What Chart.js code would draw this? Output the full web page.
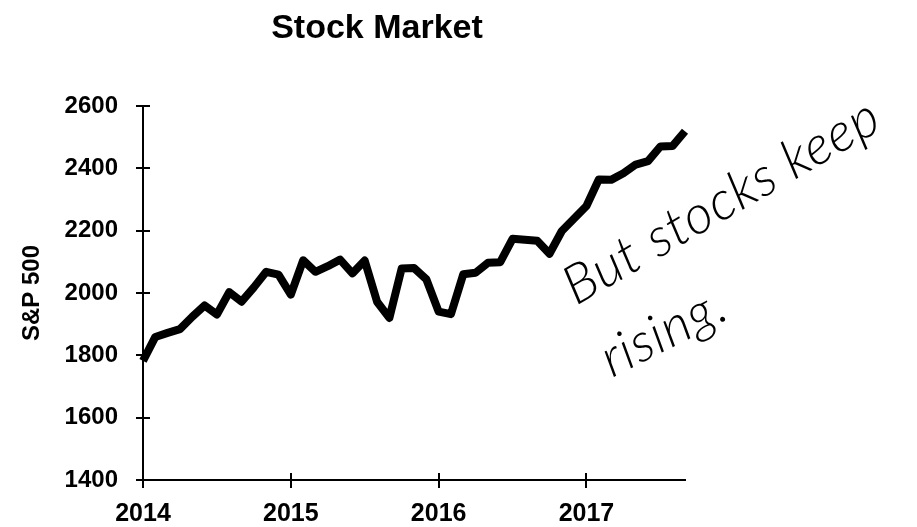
<!DOCTYPE html>
<html>
<head>
<meta charset="utf-8">
<script src="https://cdn.jsdelivr.net/npm/chart.js@4/dist/chart.umd.min.js"></script>
<style>
  html, body { margin: 0; padding: 0; background: #fff; }
  #wrap { width: 917px; height: 527px; }
</style>
</head>
<body>
<div id="wrap"><canvas id="stockChart"></canvas></div>
<script>
// month-end S&P 500 closes, Jan 2014 .. Sep 2017
var years = ['2014', '2015', '2016', '2017'];
var monthNames = ['Jan','Feb','Mar','Apr','May','Jun','Jul','Aug','Sep','Oct','Nov','Dec'];
var sp500 = [
  1782, 1859, 1872, 1884, 1924, 1960, 1931, 2003, 1972, 2018, 2068, 2059,   // 2014
  1995, 2105, 2068, 2086, 2107, 2063, 2104, 1972, 1920, 2079, 2080, 2044,   // 2015
  1940, 1932, 2060, 2065, 2097, 2099, 2174, 2171, 2168, 2126, 2199, 2239,   // 2016
  2279, 2364, 2363, 2384, 2412, 2423, 2470, 2472, 2519                      // 2017
];
var yTicks = [1400, 1600, 1800, 2000, 2200, 2400, 2600];
var titleText = 'Stock Market';
var yTitle = 'S&P 500';
var note = ['But stocks keep', 'rising.'];

// category labels, one per month
var months = [];
for (var i = 0; i < sp500.length; i++) {
  months.push(monthNames[i % 12] + ' ' + years[Math.floor(i / 12)]);
}

var sans = "'Liberation Sans', Arial, sans-serif";

// inner halves of the tick marks (ticks cross the axis), title, and the scribbled note
var extras = {
  id: 'extras',
  afterDraw: function (chart) {
    var ctx = chart.ctx;
    var xs = chart.scales.x, ys = chart.scales.y;
    ctx.save();
    ctx.strokeStyle = '#000';
    ctx.lineWidth = 2;
    ctx.beginPath();
    yTicks.forEach(function (v) {
      var py = Math.round(ys.getPixelForValue(v));
      ctx.moveTo(xs.left, py);
      ctx.lineTo(xs.left + 7, py);
    });
    for (var i = 0; i < months.length; i += 12) {
      var px = Math.round(xs.getPixelForValue(i));
      ctx.moveTo(px, ys.bottom);
      ctx.lineTo(px, ys.bottom - 7);
    }
    ctx.stroke();

    // title
    ctx.fillStyle = '#000';
    ctx.font = 'bold 34px ' + sans;
    ctx.textAlign = 'center';
    ctx.textBaseline = 'alphabetic';
    ctx.fillText(titleText, 377, 38);

    // handwritten remark
    ctx.font = 'italic 300 54px Lato, sans-serif';
    ctx.textAlign = 'left';
    ctx.letterSpacing = '1px';
    ctx.save();
    ctx.translate(576, 306);
    ctx.rotate(-30 * Math.PI / 180);
    ctx.fillText(note[0], 0, 0);
    ctx.restore();
    ctx.save();
    ctx.translate(612, 378);
    ctx.rotate(-27 * Math.PI / 180);
    ctx.fillText(note[1], 0, 0);
    ctx.restore();
    ctx.restore();
  }
};

var stockChart = new Chart(document.getElementById('stockChart'), {
  type: 'line',
  data: {
    labels: months,
    datasets: [{
      label: yTitle,
      data: sp500,
      borderColor: '#000',
      borderWidth: 8,
      borderJoinStyle: 'round',
      borderCapStyle: 'butt',
      pointRadius: 0,
      tension: 0,
      fill: false
    }]
  },
  options: {
    responsive: true,
    maintainAspectRatio: false,
    animation: false,
    layout: { padding: { left: 0, top: 106, right: 232, bottom: 0 } },
    plugins: {
      legend: { display: false },
      title: { display: false },
      tooltip: { enabled: false }
    },
    scales: {
      x: {
        type: 'category',
        offset: false,
        afterFit: function (s) { s.height = 47; },
        border: { color: '#000', width: 2 },
        grid: {
          drawOnChartArea: false,
          tickLength: 8,
          lineWidth: 2,
          color: function (c) { return c.index % 12 === 0 ? '#000' : 'rgba(0,0,0,0)'; }
        },
        ticks: {
          autoSkip: false,
          maxRotation: 0,
          padding: 11,
          color: '#000',
          font: { family: sans, size: 25, weight: 'bold' },
          callback: function (val, idx) { return idx % 12 === 0 ? years[idx / 12] : ''; }
        }
      },
      y: {
        min: 1400,
        max: 2600,
        afterFit: function (s) { s.width = 143; },
        afterBuildTicks: function (s) { s.ticks = yTicks.map(function (v) { return { value: v }; }); },
        border: { color: '#000', width: 2 },
        grid: { drawOnChartArea: false, tickLength: 7, lineWidth: 2, color: '#000' },
        title: {
          display: true,
          text: yTitle,
          color: '#000',
          font: { family: sans, size: 24, weight: 'bold' },
          padding: { top: 18, bottom: 0 }
        },
        ticks: {
          padding: 18,
          color: '#000',
          font: { family: sans, size: 24, weight: 'bold' },
          callback: function (v) { return String(v); }
        }
      }
    }
  },
  plugins: [extras]
});
</script>
</body>
</html>
